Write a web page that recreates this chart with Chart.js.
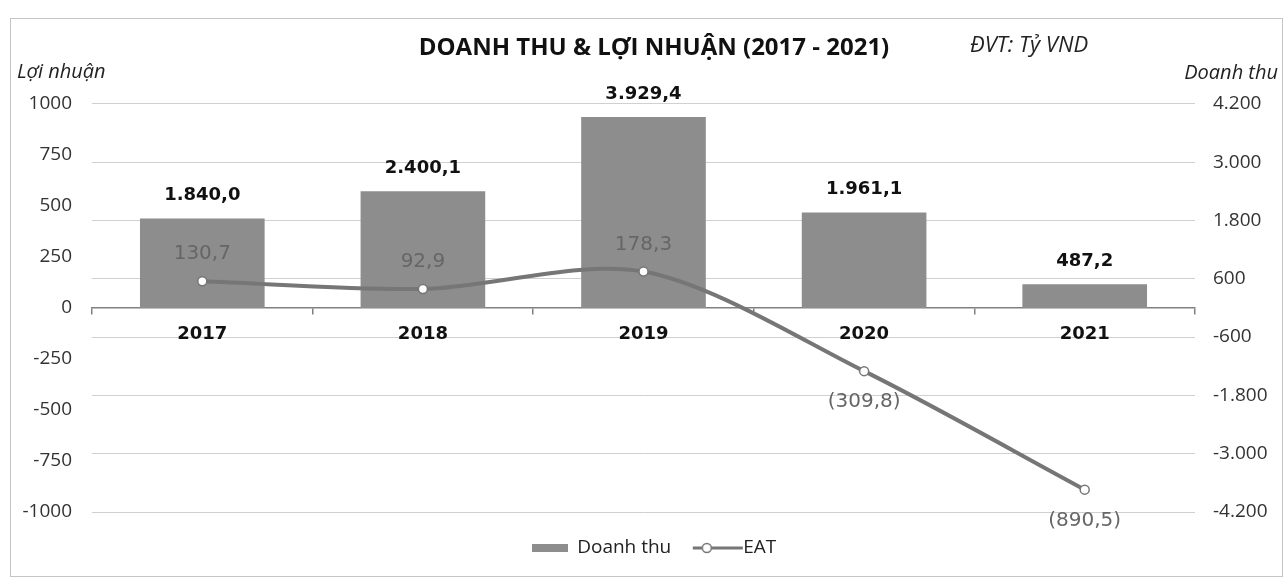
<!DOCTYPE html>
<html>
<head>
<meta charset="utf-8">
<title>Doanh thu & Lợi nhuận 2017 - 2021</title>
<script src="https://cdn.jsdelivr.net/npm/chart.js@4.4.1/dist/chart.umd.min.js"></script>
<style>
  html, body { margin: 0; padding: 0; background: #fff; }
</style>
</head>
<body>
<canvas id="chart" width="1286" height="579"></canvas>
<script>
// data (Tỷ VND)
const years = ["2017", "2018", "2019", "2020", "2021"];
const revenue = [1840.0, 2400.1, 3929.4, 1961.1, 487.2];   // Doanh thu -> right axis
const eat = [130.7, 92.9, 178.3, -309.8, -890.5];          // EAT (lợi nhuận) -> left axis
const profitTicks = [-1000, -750, -500, -250, 0, 250, 500, 750, 1000];
const revenueTicks = [-4200, -3000, -1800, -600, 600, 1800, 3000, 4200];

const barColor = "#8d8d8d";
const lineColor = "#767676";
const gridColor = "#d0d0d0";
const axisColor = "#808080";
const regular = "'Open Sans', sans-serif";
const bold = "'DejaVu Sans', sans-serif";

// 1840.0 -> "1.840,0"
function fmtVN(v, decimals) {
  const neg = v < 0;
  const parts = Math.abs(v).toFixed(decimals).split(".");
  const intPart = parts[0].replace(/\B(?=(\d{3})+(?!\d))/g, ".");
  return (neg ? "-" : "") + intPart + (parts[1] ? "," + parts[1] : "");
}

// small pictures for the legend markers
function legendBar() {
  const c = document.createElement("canvas");
  c.width = 36; c.height = 8;
  const g = c.getContext("2d");
  g.fillStyle = barColor;
  g.fillRect(0, 0, 36, 8);
  return c;
}
function legendLine() {
  const c = document.createElement("canvas");
  c.width = 56; c.height = 12;
  const g = c.getContext("2d");
  g.strokeStyle = lineColor;
  g.lineWidth = 3;
  g.beginPath(); g.moveTo(5, 6); g.lineTo(55, 6); g.stroke();
  g.beginPath(); g.arc(19, 6, 4.5, 0, Math.PI * 2);
  g.fillStyle = "#fff"; g.fill();
  g.lineWidth = 1.5; g.stroke();
  return c;
}
const legendIcons = [legendBar(), legendLine()];

const frame = {
  id: "frame",
  beforeDraw(chart) {
    const ctx = chart.ctx;
    ctx.save();
    ctx.fillStyle = "#fff";
    ctx.fillRect(0, 0, chart.width, chart.height);
    ctx.strokeStyle = "#c4c4c4";
    ctx.lineWidth = 1;
    ctx.strokeRect(10.5, 18.5, chart.width - 14, chart.height - 21);
    ctx.restore();
  },
  afterDraw(chart) {
    const ctx = chart.ctx;
    const area = chart.chartArea;
    ctx.save();
    ctx.fillStyle = "#222";
    ctx.textBaseline = "middle";
    ctx.font = "italic 20px " + regular;
    ctx.textAlign = "left";
    ctx.fillText("Lợi nhuận", 17, area.top - 32);
    ctx.textAlign = "right";
    ctx.fillText("Doanh thu", 1278, area.top - 31);
    ctx.textAlign = "left";
    ctx.font = "italic 22px " + regular;
    ctx.fillText("ĐVT: Tỷ VND", 970, 46);
    ctx.restore();
  }
};

const valueLabels = {
  id: "valueLabels",
  afterDatasetsDraw(chart) {
    const ctx = chart.ctx;
    ctx.save();
    ctx.textAlign = "center";
    ctx.textBaseline = "middle";
    chart.getDatasetMeta(0).data.forEach((bar, i) => {
      ctx.font = "bold 18px " + bold;
      ctx.fillStyle = "#111";
      ctx.fillText(fmtVN(revenue[i], 1), bar.x, bar.y - 23);
    });
    chart.getDatasetMeta(1).data.forEach((pt, i) => {
      const v = eat[i];
      ctx.font = "20px " + bold;
      ctx.fillStyle = "#666";
      if (v >= 0) {
        ctx.fillText(fmtVN(v, 1), pt.x, pt.y - 27);
      } else {
        ctx.fillText("(" + fmtVN(-v, 1) + ")", pt.x, pt.y + 31);
      }
    });
    ctx.restore();
  }
};

new Chart(document.getElementById("chart"), {
  data: {
    labels: years,
    datasets: [
      {
        type: "bar",
        label: "Doanh thu",
        data: revenue,
        yAxisID: "y1",
        backgroundColor: barColor,
        barPercentage: 0.565,
        categoryPercentage: 1,
        order: 1
      },
      {
        type: "line",
        label: "EAT",
        data: eat,
        yAxisID: "y",
        borderColor: lineColor,
        borderWidth: 4,
        tension: 0.3,
        pointRadius: 4.5,
        pointBackgroundColor: "#fff",
        pointBorderColor: lineColor,
        pointBorderWidth: 1.5,
        order: 0
      }
    ]
  },
  options: {
    responsive: false,
    animation: false,
    layout: { padding: { left: 22, right: 0, top: 0, bottom: 11.5 } },
    scales: {
      x: {
        position: { y: 0 },
        offset: true,
        grid: { display: true, offset: true, drawOnChartArea: false, drawTicks: true, tickLength: 6, color: axisColor, lineWidth: 1.5 },
        border: { display: true, color: axisColor, width: 1.5 },
        ticks: { font: { family: bold, size: 18, weight: "bold" }, color: "#111", padding: 10, maxRotation: 0 }
      },
      y: {
        position: "left",
        min: -1000,
        max: 1000,
        afterBuildTicks: s => { s.ticks = profitTicks.map(v => ({ value: v })); },
        afterFit: s => { s.width = 70; },
        grid: { display: false, drawTicks: false },
        border: { display: false },
        ticks: { padding: 20, color: "#333", font: { family: regular, size: 19 }, callback: v => String(v) }
      },
      y1: {
        position: "right",
        min: -4200,
        max: 4200,
        afterBuildTicks: s => { s.ticks = revenueTicks.map(v => ({ value: v })); },
        afterFit: s => { s.width = 91; },
        grid: { color: gridColor, lineWidth: 1, drawTicks: false },
        border: { display: false },
        ticks: { padding: 18, color: "#333", font: { family: regular, size: 19 }, callback: v => fmtVN(v, 0) }
      }
    },
    plugins: {
      title: {
        display: true,
        text: "DOANH THU & LỢI NHUẬN (2017 - 2021)",
        color: "#111",
        font: { family: regular, size: 24, weight: "bold" },
        padding: { top: 34, bottom: 41 }
      },
      legend: {
        position: "bottom",
        labels: {
          usePointStyle: true,
          pointStyleWidth: 36,
          boxHeight: 8,
          padding: 26.5,
          color: "#222",
          font: { family: regular, size: 19 },
          sort: (a, b) => a.datasetIndex - b.datasetIndex,
          generateLabels: chart => {
            const items = Chart.defaults.plugins.legend.labels.generateLabels(chart);
            items.forEach(it => { it.pointStyle = legendIcons[it.datasetIndex]; });
            return items;
          }
        }
      },
      tooltip: { enabled: false }
    }
  },
  plugins: [frame, valueLabels]
});
</script>
</body>
</html>
